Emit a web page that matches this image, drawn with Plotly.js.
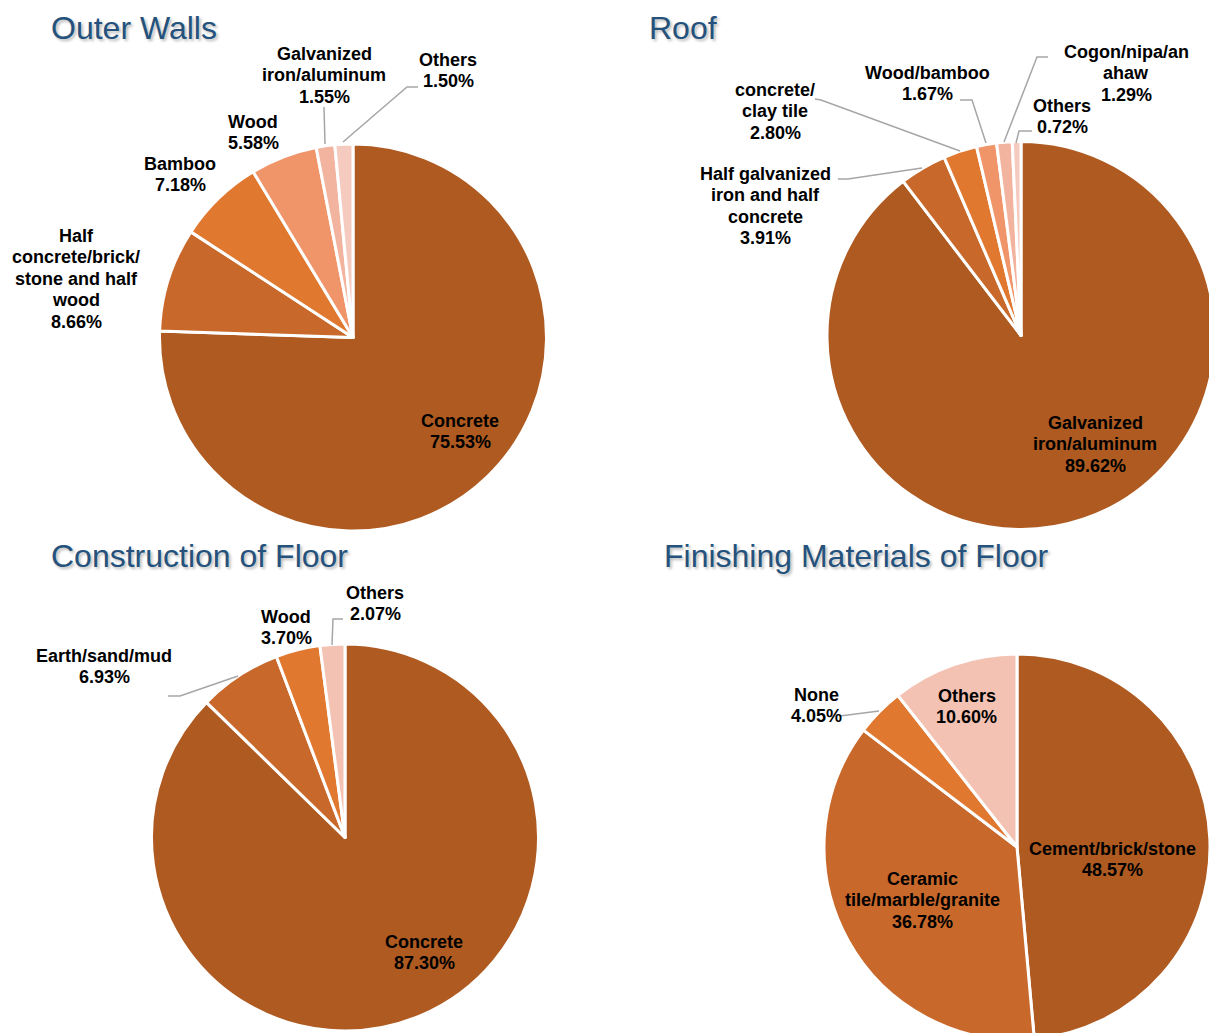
<!DOCTYPE html>
<html><head><meta charset="utf-8">
<script src="https://cdn.plot.ly/plotly-3.0.1.min.js"></script>
<style>html,body{margin:0;padding:0;overflow:hidden;background:#fff}#chart{width:1240px;height:1060px}</style>
</head><body><div id="chart"></div>
<script>
// ---- DATA ----
const wallsCategories = ["Concrete", "Half concrete/brick/stone and half wood", "Bamboo", "Wood", "Galvanized iron/aluminum", "Others"];
const wallsValues = [75.53, 8.66, 7.18, 5.58, 1.55, 1.50];
const roofCategories = ["Galvanized iron/aluminum", "Half galvanized iron and half concrete", "concrete/clay tile", "Wood/bamboo", "Cogon/nipa/anahaw", "Others"];
const roofValues = [89.62, 3.91, 2.80, 1.67, 1.29, 0.72];
const floorCategories = ["Concrete", "Earth/sand/mud", "Wood", "Others"];
const floorValues = [87.30, 6.93, 3.70, 2.07];
const finishCategories = ["Cement/brick/stone", "Ceramic tile/marble/granite", "None", "Others"];
const finishValues = [48.57, 36.78, 4.05, 10.60];

// wrapped label lines (as printed)
const wallsWrap = [["Concrete"], ["Half", "concrete/brick/", "stone and half", "wood"], ["Bamboo"], ["Wood"], ["Galvanized", "iron/aluminum"], ["Others"]];
const roofWrap = [["Galvanized", "iron/aluminum"], ["Half galvanized", "iron and half", "concrete"], ["concrete/", "clay tile"], ["Wood/bamboo"], ["Cogon/nipa/an", "ahaw"], ["Others"]];
const floorWrap = [["Concrete"], ["Earth/sand/mud"], ["Wood"], ["Others"]];
const finishWrap = [["Cement/brick/stone"], ["Ceramic", "tile/marble/granite"], ["None"], ["Others"]];

// palettes
const pal6 = ["#AE5A21", "#C8682A", "#E07830", "#F0946A", "#F2B49E", "#F5CBC0"];
const pal4a = ["#AE5A21", "#C8682A", "#E07830", "#F4C2B2"];
const pal4b = ["#AE5A21", "#C8682A", "#E07830", "#F4C2B2"];

// ---- LAYOUT HELPERS ----
const W = 1240, H = 1060;
const X = p => p / W;
const Y = p => 1 - p / H;
function dom(cx, cy, r) { return {x: [(cx - r) / W, (cx + r) / W], y: [1 - (cy + r) / H, 1 - (cy - r) / H]}; }

function pie(cats, vals, colors, d) {
  return {type: 'pie', labels: cats, values: vals, sort: false, direction: 'clockwise', rotation: 0,
    textinfo: 'none', hoverinfo: 'label+percent', showlegend: false, domain: d,
    marker: {colors: colors, line: {color: '#FFFFFF', width: 3}}};
}

const data = [
  pie(wallsCategories, wallsValues, pal6, dom(353, 337.5, 193.5)),
  pie(roofCategories, roofValues, pal6, dom(1021, 335.5, 194)),
  pie(floorCategories, floorValues, pal4a, dom(345, 837.5, 193.5)),
  pie(finishCategories, finishValues, pal4b, dom(1017, 847, 193))
];

const annotations = [];
const shapes = [];
const GAP = 21.4;
function addLabels(wrap, vals, pos) {
  wrap.forEach((lines, i) => {
    const all = lines.concat([vals[i].toFixed(2) + '%']);
    all.forEach((t, k) => {
      annotations.push({xref: 'paper', yref: 'paper', x: X(pos[i][0]), y: Y(pos[i][1] + k * GAP),
        xanchor: 'center', yanchor: 'middle', showarrow: false, text: t,
        font: {family: 'Liberation Sans, Arial, sans-serif', size: 18, color: '#000000', weight: 700}});
    });
  });
}
addLabels(wallsWrap, wallsValues, [[460, 421], [76, 236], [180, 164], [253, 122], [324, 54], [448, 60]]);
addLabels(roofWrap, roofValues, [[1095, 423], [765, 174], [775, 90], [927, 73], [1126, 52], [1062, 106]]);
addLabels(floorWrap, floorValues, [[424, 942], [104, 656], [286, 617], [375, 593]]);
addLabels(finishWrap, finishValues, [[1112, 849], [922, 879], [816, 695], [967, 696]]);

function leader(pts) {
  const path = pts.map((p, i) => (i ? 'L' : 'M') + X(p[0]).toFixed(5) + ',' + Y(p[1]).toFixed(5)).join(' ');
  shapes.push({type: 'path', xref: 'paper', yref: 'paper', path: path, line: {color: '#A6A6A6', width: 1.5}});
}
leader([[324, 107], [325, 144]]);
leader([[418, 87], [407, 87], [343, 142]]);
leader([[838, 179], [848, 179], [922, 168]]);
leader([[815, 99], [821, 100], [960, 151]]);
leader([[960, 100], [972, 100], [986, 143]]);
leader([[1048, 57], [1037, 57], [1004, 142]]);
leader([[1032, 131], [1019, 131], [1016, 143]]);
leader([[168, 696], [180, 696], [238, 676]]);
leader([[343, 619], [333, 619], [332, 645]]);
leader([[840, 716], [879, 711]]);

function title(t, x, y) {
  annotations.push({xref: 'paper', yref: 'paper', x: X(x), y: Y(y), xanchor: 'left', yanchor: 'middle',
    showarrow: false, text: t,
    font: {family: 'Liberation Sans, Arial, sans-serif', size: 32, color: '#24527D', shadow: '2px 2px 3px rgba(0,0,0,0.28)'}});
}
title('Outer Walls', 49, 28);
title('Roof', 647, 28);
title('Construction of Floor', 49, 556);
title('Finishing Materials of Floor', 662, 556);

const layout = {width: W, height: H, margin: {l: 0, r: 0, t: 0, b: 0}, paper_bgcolor: '#FFFFFF',
  plot_bgcolor: '#FFFFFF', showlegend: false, annotations: annotations, shapes: shapes};

Plotly.newPlot('chart', data, layout, {displayModeBar: false, staticPlot: true});
</script></body></html>
